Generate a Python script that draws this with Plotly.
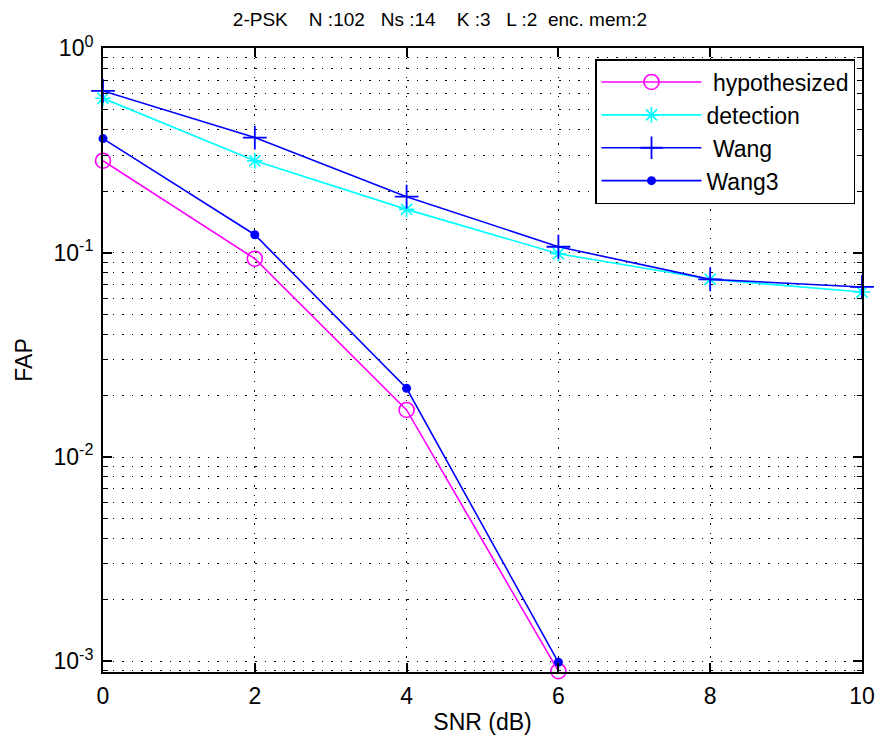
import plotly.graph_objects as go

snr = [0, 2, 4, 6, 8, 10]
snr_short = [0, 2, 4, 6]
hypothesized = [0.282, 0.0935, 0.0170, 0.000895]
wang3 = [0.362, 0.1225, 0.0217, 0.00099]
wang = [0.619, 0.366, 0.188, 0.107, 0.0741, 0.0680]
detection = [0.570, 0.282, 0.163, 0.0989, 0.0741, 0.0642]

title_text = "2-PSK    N :102   Ns :14    K :3   L :2  enc. mem:2"
ytick_vals = [1, 0.1, 0.01, 0.001]
ytick_text = ["10<sup>0</sup>", "10<sup>-1</sup>", "10<sup>-2</sup>", "10<sup>-3</sup>"]
xtick_vals = [0, 2, 4, 6, 8, 10]

FONT = "Liberation Sans, Arial, sans-serif"
PL, PR, PT, PB = 103, 862, 48, 672  # plot area in pixels

fig = go.Figure()
fig.add_trace(go.Scatter(
    x=snr_short, y=hypothesized, name=" hypothesized", mode="lines+markers",
    line=dict(color="#ff00ff", width=1.6),
    marker=dict(symbol="circle-open", size=15, color="#ff00ff", line=dict(width=1.6)),
    cliponaxis=False, legendgroup="a"))
fig.add_trace(go.Scatter(
    x=snr, y=detection, name="detection", mode="lines+markers",
    line=dict(color="#00ffff", width=1.6),
    marker=dict(symbol="asterisk-open", size=13, color="#00ffff", line=dict(width=1.6, color="#00ffff")),
    cliponaxis=False, legendgroup="b"))
fig.add_trace(go.Scatter(
    x=snr, y=wang, name=" Wang", mode="lines+markers",
    line=dict(color="#0000ff", width=1.6),
    marker=dict(symbol="cross-thin-open", size=17, color="#0000ff", line=dict(width=1.8, color="#0000ff")),
    cliponaxis=False, legendgroup="c"))
fig.add_trace(go.Scatter(
    x=snr_short, y=wang3, name="Wang3", mode="lines+markers",
    line=dict(color="#0000ff", width=1.6),
    marker=dict(symbol="circle", size=9, color="#0000ff"),
    cliponaxis=False, legendgroup="d"))

fig.update_layout(
    width=887, height=745,
    margin=dict(l=PL, r=887 - PR, t=PT, b=745 - PB, autoexpand=False),
    paper_bgcolor="white", plot_bgcolor="white",
    font=dict(family=FONT, color="black", size=23),
    title=dict(text=title_text, x=440 / 887, xanchor="center", xref="container",
               y=1 - 19 / 745, yanchor="middle", yref="container",
               font=dict(size=19, family=FONT, color="black")),
    showlegend=True,
    legend=dict(x=(595 - PL) / (PR - PL), xref="paper",
                y=1 - (59 - PT) / (PB - PT), yref="paper",
                xanchor="left", yanchor="top",
                bgcolor="white", bordercolor="black", borderwidth=1.5,
                font=dict(size=23, family=FONT, color="black"),
                itemwidth=100, tracegroupgap=0, traceorder="grouped"),
    xaxis=dict(range=[0, 10], tickvals=xtick_vals, ticks="inside", ticklen=9,
               tickwidth=1.5, tickcolor="black", showline=True, linecolor="black",
               linewidth=2, mirror="ticks", showgrid=True, gridcolor="black",
               gridwidth=1, griddash="1.5px,8px", zeroline=False,
               tickfont=dict(size=23), ticklabelstandoff=2,
               title=dict(text="SNR (dB)", font=dict(size=23), standoff=6)),
    yaxis=dict(type="log", range=[-3.052, 0.002], tickvals=ytick_vals, ticktext=ytick_text,
               ticks="inside", ticklen=9, tickwidth=1.5, tickcolor="black",
               showline=True, linecolor="black", linewidth=2, mirror="ticks",
               showgrid=True, gridcolor="black", gridwidth=1, griddash="1.5px,8px",
               zeroline=False, tickfont=dict(size=23), ticklabelstandoff=3,
               minor=dict(ticks="inside", ticklen=5, tickwidth=1, tickcolor="black",
                          showgrid=True, gridcolor="black", gridwidth=1,
                          griddash="1.5px,8px", dtick="D1"),
               title=dict(text="FAP", font=dict(size=23), standoff=14)),
)

fig.write_html("out.html")
